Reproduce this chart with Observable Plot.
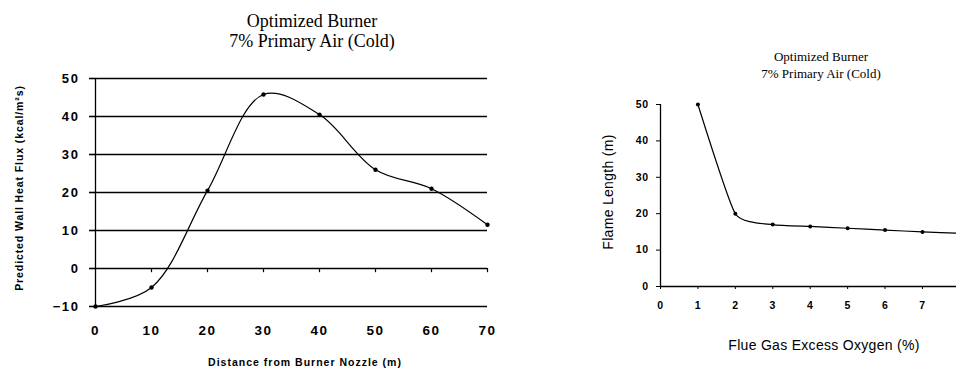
<!DOCTYPE html>
<html><head><meta charset="utf-8">
<script src="https://cdn.jsdelivr.net/npm/d3@7"></script>
<script src="https://cdn.jsdelivr.net/npm/@observablehq/plot@0.6"></script>
<style>
html,body{margin:0;padding:0;background:#fff;}
#root{position:relative;width:956px;height:368px;overflow:hidden;background:#fff;font-family:Arial,"Liberation Sans",sans-serif;color:#000;}
.abs{position:absolute;white-space:nowrap;}
.title{font-family:"Liberation Serif","Times New Roman",serif;text-align:center;transform:translateX(-50%);}
.plot{position:absolute;top:0;}
.leftplot text{letter-spacing:1.6px;}
.rightplot text{letter-spacing:0.5px;}
</style></head><body>
<div id="root">
  <div class="abs title" style="left:312px;top:11px;font-size:18px;line-height:20px;">Optimized Burner<br>7% Primary Air (Cold)</div>
  <div class="abs title" style="left:821px;top:48px;font-size:13px;line-height:17px;">Optimized Burner<br>7% Primary Air (Cold)</div>
  <div class="abs" style="left:305px;top:356px;transform:translateX(-50%);font-size:10.5px;font-weight:bold;letter-spacing:1px;">Distance from Burner Nozzle (m)</div>
  <div class="abs" style="left:19px;top:188px;transform:translate(-50%,-50%) rotate(-90deg);font-size:10.5px;font-weight:bold;letter-spacing:0.9px;">Predicted Wall Heat Flux (kcal/m²s)</div>
  <div class="abs" style="left:824px;top:337px;transform:translateX(-50%);font-size:14px;letter-spacing:0.3px;">Flue Gas Excess Oxygen (%)</div>
  <div class="abs" style="left:608px;top:192px;transform:translate(-50%,-50%) rotate(-90deg);font-size:14px;letter-spacing:0.3px;">Flame Length (m)</div>
</div>
<script>
// Left chart: predicted wall heat flux vs distance from burner nozzle
const distance = [0, 10, 20, 30, 40, 50, 60, 70];
const heatFlux = [-10, -5, 20.5, 45.8, 40.5, 26, 21, 11.5];
const fluxTicks = [-10, 0, 10, 20, 30, 40, 50];
const distanceTicks = [0, 10, 20, 30, 40, 50, 60, 70];

// Right chart: flame length vs flue gas excess oxygen
const oxygen = [1, 2, 3, 4, 5, 6, 7, 8];
const flameLength = [50, 20, 17, 16.5, 16, 15.5, 15, 14.6];
const oxygenMarked = [1, 2, 3, 4, 5, 6, 7];
const lengthTicks = [0, 10, 20, 30, 40, 50];
const oxygenTicks = [0, 1, 2, 3, 4, 5, 6, 7];

const fluxData = distance.map((d, i) => ({x: d, y: heatFlux[i]}));
const flameData = oxygen.map((d, i) => ({x: d, y: flameLength[i]}));
const flameMarked = flameData.filter(d => oxygenMarked.includes(d.x));

const left = Plot.plot({
  width: 500, height: 368,
  marginLeft: 95, marginRight: 13, marginTop: 78, marginBottom: 62,
  x: {domain: [0, 70]},
  y: {domain: [-10, 50]},
  style: {background: "transparent", overflow: "visible", fontFamily: "Arial, 'Liberation Sans', sans-serif"},
  marks: [
    Plot.ruleY(fluxTicks, {stroke: "black", strokeWidth: 1.6}),
    Plot.ruleX([0], {y1: -10, y2: 50, stroke: "black", strokeWidth: 1.3}),
    Plot.ruleX(distanceTicks.slice(1), {y1: 0, y2: -1.1, stroke: "black", strokeWidth: 1.2}),
    Plot.axisY({ticks: fluxTicks, tickSize: 6, tickPadding: 10, fontSize: 13, fontWeight: "bold", label: null, strokeWidth: 1.6}),
    Plot.axisX({ticks: distanceTicks, tickSize: 0, tickPadding: 19, fontSize: 13.5, fontWeight: "bold", label: null}),
    Plot.line(fluxData, {x: "x", y: "y", curve: "catmull-rom", stroke: "black", strokeWidth: 1.2}),
    Plot.dot(fluxData, {x: "x", y: "y", r: 2.2, fill: "black", stroke: null})
  ]
});
left.classList.add("plot", "leftplot");
left.style.left = "0px";

const right = Plot.plot({
  width: 456, height: 368,
  marginLeft: 160, marginRight: 0, marginTop: 104, marginBottom: 82,
  x: {domain: [0, 8], range: [160, 459.4]},
  y: {domain: [0, 50]},
  style: {background: "transparent", overflow: "visible", fontFamily: "Arial, 'Liberation Sans', sans-serif"},
  marks: [
    Plot.ruleY([0], {stroke: "black", strokeWidth: 1.5}),
    Plot.ruleX([0], {y1: 0, y2: 50, stroke: "black", strokeWidth: 1.3}),
    Plot.axisY({ticks: lengthTicks, tickSize: 4, tickPadding: 8, fontSize: 10.5, fontWeight: "bold", label: null}),
    Plot.axisX({ticks: oxygenTicks, tickSize: 3, tickPadding: 12, fontSize: 10.5, fontWeight: "bold", label: null}),
    Plot.line(flameData, {x: "x", y: "y", curve: "cardinal", tension: 0.5, stroke: "black", strokeWidth: 1.2, clip: true}),
    Plot.dot(flameMarked, {x: "x", y: "y", r: 2, fill: "black", stroke: null})
  ]
});
right.classList.add("plot", "rightplot");
right.style.left = "500px";

const root = document.getElementById("root");
root.prepend(right);
root.prepend(left);
</script>
</body></html>
